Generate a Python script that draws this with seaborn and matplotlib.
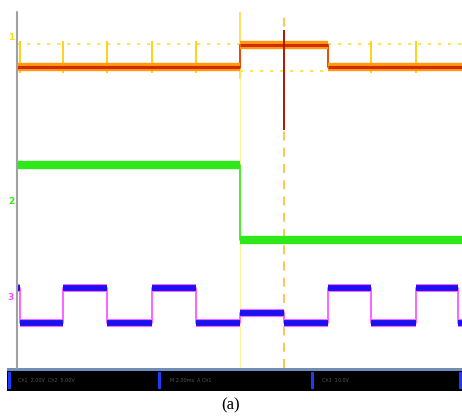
import numpy as np
import pandas as pd
import matplotlib
matplotlib.use("Agg")
import matplotlib.pyplot as plt
from matplotlib.patches import Rectangle
import seaborn as sns

# ---- data (time in divisions, level in divisions) ----
ch1_t = [0.0, 5.07, 7.07, 10.11]
ch1_v = [6.76, 7.26, 6.76, 6.76]
ch1_spike_t = [0.07, 1.05, 2.05, 3.07, 4.07, 8.05, 9.07]
ch1_spike_top = 7.35
ch1_spike_bot = 6.62
ch1_ref_hi = 7.28
ch1_ref_lo = 6.67

ch2_t = [0.0, 5.07, 10.11]
ch2_v = [4.56, 2.88, 2.88]

ch3_t = [0.0, 0.07, 1.05, 2.05, 3.07, 4.07, 5.07, 6.07, 7.07, 8.05, 9.07, 10.02, 10.11]
ch3_v = [1.80, 1.01, 1.80, 1.01, 1.80, 1.01, 1.24, 1.01, 1.80, 1.01, 1.80, 1.01, 1.01]

cursor_a = 5.07
cursor_b = 6.07
glitch_top = 7.6
glitch_bot = 5.35

status_labels = ["Ch1  2.00V  Ch2  5.00V", "M 2.00ms  A Ch1", "Ch3  10.0V  "]
caption = "(a)"

sns.set_style("white")

W, H = 462, 419
fig = plt.figure(figsize=(W / 100, H / 100), dpi=100)
fig.patch.set_facecolor("white")

# screen axes
x0, x1, ytop, ybot = 17, 462, 12, 368
ax = fig.add_axes([x0 / W, 1 - ybot / H, (x1 - x0) / W, (ybot - ytop) / H])
ax.set_xlim(0, (x1 - x0) / 44.0)
ax.set_ylim(0, 8)
ax.axis("off")

xmax = (x1 - x0) / 44.0

# reference dotted lines ch1
ax.hlines([ch1_ref_hi], 0, cursor_a, colors="#ffe033", linestyles=(0, (2, 4)), lw=1.2)
ax.hlines([ch1_ref_hi], 7.07, xmax, colors="#ffe033", linestyles=(0, (2, 4)), lw=1.2)
ax.hlines([ch1_ref_lo], cursor_a, 7.07, colors="#ffe033", linestyles=(0, (2, 4)), lw=1.2)

# cursors
ax.vlines([cursor_a], 0, 8, colors="#fff0a0", lw=1.0)
ax.vlines([cursor_a], 6.5, 8, colors="#ffe060", lw=1.4)
ax.vlines([cursor_b], 0, 8, colors="#ffc040", linestyles=(0, (5, 4)), lw=1.3)

# ch1
df1 = pd.DataFrame({"t": ch1_t, "v": ch1_v})
ax.vlines(ch1_spike_t, ch1_spike_bot, ch1_spike_top, colors="#ffd000", lw=1.3)
sns.lineplot(data=df1, x="t", y="v", ax=ax, drawstyle="steps-post", color="#e84a00",
             lw=1.4, estimator=None, sort=False, legend=False)
ax.hlines(ch1_v[:-1], ch1_t[:-1], ch1_t[1:], colors="#ff9a10", lw=6)
ax.hlines(ch1_v[:-1], ch1_t[:-1], ch1_t[1:], colors="#d42a00", lw=2.2)
ax.vlines([cursor_b], glitch_bot, glitch_top, colors="#b01800", lw=1.4)

# ch2
df2 = pd.DataFrame({"t": ch2_t, "v": ch2_v})
sns.lineplot(data=df2, x="t", y="v", ax=ax, drawstyle="steps-post", color="#30e818",
             lw=1.2, estimator=None, sort=False, legend=False)
ax.hlines(ch2_v[:-1], ch2_t[:-1], ch2_t[1:], colors="#2ee81a", lw=6)

# ch3
df3 = pd.DataFrame({"t": ch3_t, "v": ch3_v})
sns.lineplot(data=df3, x="t", y="v", ax=ax, drawstyle="steps-post", color="#ff55ff",
             lw=1.3, estimator=None, sort=False, legend=False)
ax.hlines(ch3_v[:-1], ch3_t[:-1], ch3_t[1:], colors="#ff66ff", lw=5.8)
ax.hlines(ch3_v[:-1], ch3_t[:-1], ch3_t[1:], colors="#1a10f0", lw=4.2)

# overlay axes for screen decoration
ov = fig.add_axes([0, 0, 1, 1])
ov.set_xlim(0, W)
ov.set_ylim(H, 0)
ov.axis("off")
ov.patch.set_alpha(0)

# left axis line
ov.plot([17, 17], [12, 368], color="#a0a0a0", lw=1.5)

# channel markers
ov.text(11, 38, "1", color="#ffe000", fontsize=6.5, fontweight="bold", ha="center", va="center")
ov.text(11, 201, "2", color="#33e81a", fontsize=6.5, fontweight="bold", ha="center", va="center")
ov.text(11, 297, "3", color="#ff44ff", fontsize=6.5, fontweight="bold", ha="center", va="center")

# status bar
ov.add_patch(Rectangle((7, 368), 455, 23, facecolor="black", edgecolor="none"))
ov.add_patch(Rectangle((7, 368), 455, 3, facecolor="#6f8fb8", edgecolor="none"))
for xs in [8, 158, 311, 459]:
    ov.add_patch(Rectangle((xs, 372), 3, 17, facecolor="#1a3cff", edgecolor="none"))
for xs, lab in zip([18, 170, 322], status_labels):
    ov.text(xs, 380, lab, color="#555555", fontsize=3.5, ha="left", va="center")

ov.text(231, 405, caption, fontsize=12, family="Liberation Serif", ha="center", va="center",
        color="black")

fig.savefig("out.png", dpi=100, facecolor="white")
